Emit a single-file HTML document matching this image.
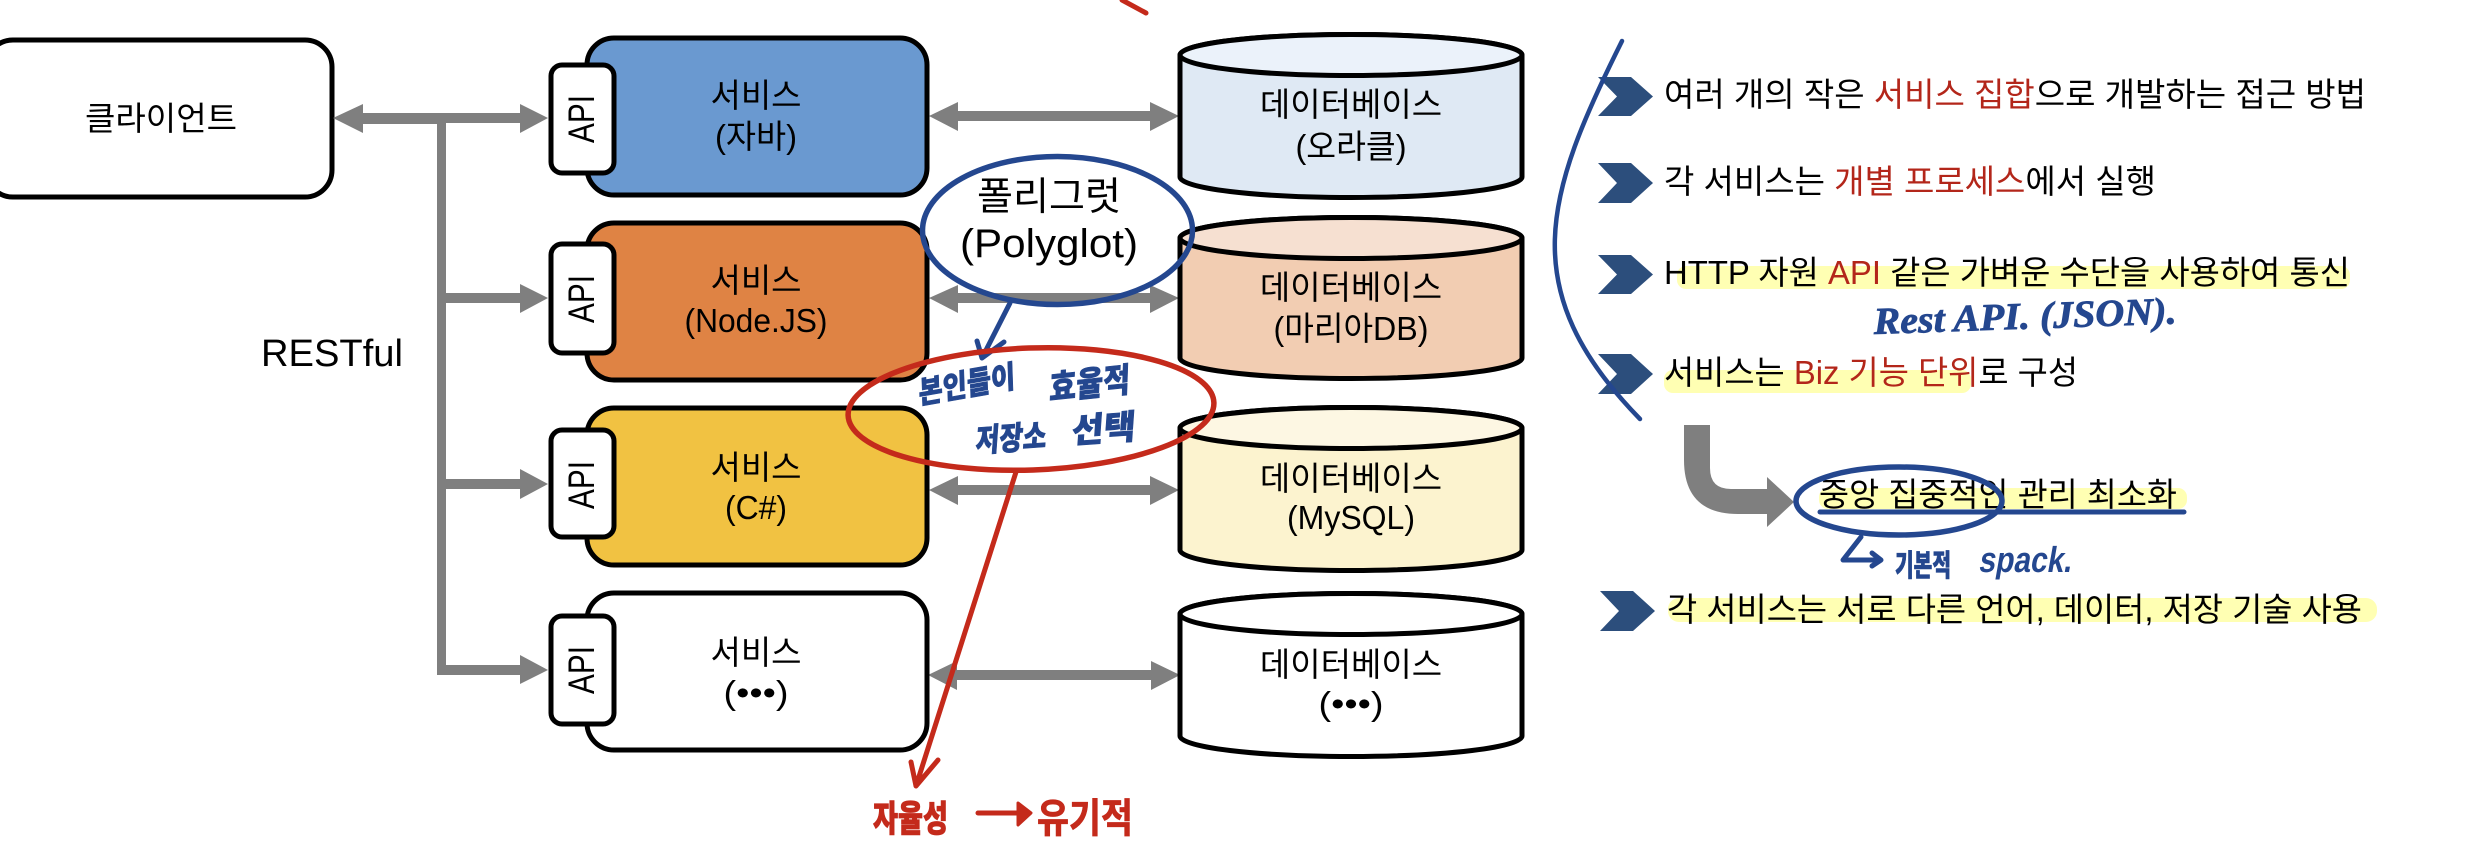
<!DOCTYPE html>
<html lang="ko"><head><meta charset="utf-8"><title>MSA</title>
<style>
html,body{margin:0;padding:0;background:#fff}
svg{display:block}
text{font-family:"Liberation Sans","Noto Sans CJK KR",sans-serif;font-size:33px;fill:#000}
.m{text-anchor:middle}
.r{fill:#b3261a}
.hb{font-family:"Noto Sans CJK KR","Liberation Sans",sans-serif;font-weight:900;fill:#24478f;stroke:#24478f;stroke-width:.6px}
.hr{font-family:"Noto Sans CJK KR","Liberation Sans",sans-serif;font-weight:900;fill:#c42a1b;stroke:#c42a1b;stroke-width:.8px}
.box{stroke:#000;stroke-width:5}
.pb{fill:none;stroke:#24478f;stroke-width:5;stroke-linecap:round;stroke-linejoin:round}
.pr{fill:none;stroke:#c42a1b;stroke-width:5;stroke-linecap:round;stroke-linejoin:round}
</style></head><body>
<svg width="2478" height="866" viewBox="0 0 2478 866" xmlns="http://www.w3.org/2000/svg">
<rect width="2478" height="866" fill="#fff"/>

<!-- client -->
<rect class="box" x="-14" y="40" width="346" height="157" rx="27" fill="#fff"/>
<text class="m" x="161" y="130" textLength="152" lengthAdjust="spacingAndGlyphs">클라이언트</text>

<!-- gray tree -->
<g fill="#7f7f7f">
<path d="M333,118 L363,104 V113 H437 H520 V104 L548,118 L520,133 V123 H446 V293 H520 V284 L548,298 L520,313 V303 H446 V479 H520 V469 L548,484 L520,499 V489 H446 V665 H520 V655 L548,670 L520,684 V675 H437 V124 H363 V133 Z"/>
<path d="M929,116 L958,102 V111 H1150 V102 L1179,116 L1150,131 V121 H958 V131 Z"/>
<path d="M929,298 L958,285 V293 H1150 V285 L1179,298 L1150,313 V303 H958 V313 Z"/>
<path d="M929,490 L958,476 V485 H1150 V476 L1179,490 L1150,505 V495 H958 V505 Z"/>
<path d="M928,675 L957,661 V670 H1151 V661 L1180,675 L1151,690 V680 H957 V690 Z"/>
</g>

<text x="261" y="366" style="font-size:38px" textLength="142" lengthAdjust="spacingAndGlyphs">RESTful</text>

<!-- services -->
<rect class="box" x="587" y="38" width="340" height="157" rx="27" fill="#6a99d0"/>
<rect class="box" x="587" y="223" width="340" height="157" rx="27" fill="#df8344"/>
<rect class="box" x="587" y="408" width="340" height="157" rx="27" fill="#f1c242"/>
<rect class="box" x="587" y="593" width="340" height="157" rx="27" fill="#fff"/>

<rect class="box" x="551" y="65" width="63" height="108" rx="11" fill="#fff"/>
<rect class="box" x="551" y="244" width="63" height="109" rx="11" fill="#fff"/>
<rect class="box" x="551" y="430" width="63" height="107" rx="11" fill="#fff"/>
<rect class="box" x="551" y="616" width="63" height="108" rx="11" fill="#fff"/>

<g style="font-size:37px">
<text class="m" transform="translate(594,119) rotate(-90)" style="font-size:37px" textLength="48" lengthAdjust="spacingAndGlyphs">API</text>
<text class="m" transform="translate(594,299) rotate(-90)" style="font-size:37px" textLength="48" lengthAdjust="spacingAndGlyphs">API</text>
<text class="m" transform="translate(594,485) rotate(-90)" style="font-size:37px" textLength="48" lengthAdjust="spacingAndGlyphs">API</text>
<text class="m" transform="translate(594,670) rotate(-90)" style="font-size:37px" textLength="48" lengthAdjust="spacingAndGlyphs">API</text>
</g>

<text class="m" x="756" y="107">서비스</text>
<text class="m" x="756" y="148" textLength="82" lengthAdjust="spacingAndGlyphs">(자바)</text>
<text class="m" x="756" y="292">서비스</text>
<text class="m" x="756" y="332" textLength="143" lengthAdjust="spacingAndGlyphs">(Node.JS)</text>
<text class="m" x="756" y="479">서비스</text>
<text class="m" x="756" y="519" textLength="62" lengthAdjust="spacingAndGlyphs">(C#)</text>
<text class="m" x="756" y="664">서비스</text>
<text class="m" x="756" y="704" textLength="65" lengthAdjust="spacingAndGlyphs">(•••)</text>

<!-- cylinders -->
<g class="box">
<path d="M1180,55 A171,20.5 0 0 1 1522,55 V177 A171,20.5 0 0 1 1180,177 Z" fill="#dfe9f4"/>
<ellipse cx="1351" cy="55" rx="171" ry="20.5" fill="#ebf2fa"/>
<path d="M1180,238 A171,20.5 0 0 1 1522,238 V358 A171,20.5 0 0 1 1180,358 Z" fill="#f2cdb2"/>
<ellipse cx="1351" cy="238" rx="171" ry="20.5" fill="#f6e0d1"/>
<path d="M1180,428 A171,20.5 0 0 1 1522,428 V550 A171,20.5 0 0 1 1180,550 Z" fill="#fcf3cf"/>
<ellipse cx="1351" cy="428" rx="171" ry="20.5" fill="#fdf7e3"/>
<path d="M1180,614 A171,20.5 0 0 1 1522,614 V736 A171,20.5 0 0 1 1180,736 Z" fill="#fff"/>
<ellipse cx="1351" cy="614" rx="171" ry="20.5" fill="#fff"/>
</g>
<text class="m" x="1351" y="116">데이터베이스</text>
<text class="m" x="1351" y="158" textLength="111" lengthAdjust="spacingAndGlyphs">(오라클)</text>
<text class="m" x="1351" y="299">데이터베이스</text>
<text class="m" x="1351" y="340" textLength="155" lengthAdjust="spacingAndGlyphs">(마리아DB)</text>
<text class="m" x="1351" y="490">데이터베이스</text>
<text class="m" x="1351" y="529" textLength="128" lengthAdjust="spacingAndGlyphs">(MySQL)</text>
<text class="m" x="1351" y="676">데이터베이스</text>
<text class="m" x="1351" y="715" textLength="65" lengthAdjust="spacingAndGlyphs">(•••)</text>

<!-- polyglot -->
<text class="m" x="1049" y="210" style="font-size:39px" textLength="144" lengthAdjust="spacingAndGlyphs">폴리그럿</text>
<text class="m" x="1049" y="257" style="font-size:40px" textLength="178" lengthAdjust="spacingAndGlyphs">(Polyglot)</text>
<ellipse cx="1057.5" cy="230.5" rx="135" ry="74" style="fill:none;stroke:#24478f;stroke-width:5.5"/>
<path class="pb" d="M1010,303 L982,358 M977,341 L982,358 L1004,342"/>

<!-- red ellipse -->
<ellipse cx="1031" cy="409" rx="183" ry="61" transform="rotate(-2 1031 409)" style="fill:none;stroke:#c42a1b;stroke-width:5.5"/>
<path class="pr" d="M1016,472 L916,786 M911,762 L916,786 L938,760"/>
<path class="pr" d="M1122,0 L1146,13"/>

<!-- handwritten blue -->
<text class="hb" transform="translate(919,404) rotate(-10) skewX(-8)" style="font-size:31px" textLength="98" lengthAdjust="spacingAndGlyphs">본인들이</text>
<text class="hb" transform="translate(1049,400) rotate(-6) skewX(-8)" style="font-size:34px" textLength="81" lengthAdjust="spacingAndGlyphs">효율적</text>
<text class="hb" transform="translate(975,452) rotate(-4) skewX(-8)" style="font-size:32px" textLength="71" lengthAdjust="spacingAndGlyphs">저장소</text>
<text class="hb" transform="translate(1071,443) rotate(-4) skewX(-8)" style="font-size:34px" textLength="64" lengthAdjust="spacingAndGlyphs">선택</text>

<!-- handwritten red bottom -->
<text class="hr" x="873" y="831" style="font-size:36px" textLength="75" lengthAdjust="spacingAndGlyphs">자율성</text>
<path class="pr" d="M978,813 H1022"/>
<path d="M1018,803 L1031,813 L1018,825 Z" fill="#c42a1b" stroke="#c42a1b" stroke-width="3" stroke-linejoin="round"/>
<text class="hr" x="1037" y="832" style="font-size:40px;font-weight:700" textLength="96" lengthAdjust="spacingAndGlyphs">유기적</text>

<!-- right panel highlights -->
<g fill="#ffffb3">
<rect x="1677" y="266" width="673" height="23" rx="9"/>
<rect x="1664" y="370" width="307" height="23" rx="9"/>
<rect x="1819" y="488" width="368" height="21" rx="9"/>
<rect x="1668" y="598" width="709" height="24" rx="11"/>
</g>

<!-- chevrons -->
<g fill="#2c4e7c">
<path d="M1598,77 H1631 L1653,96.5 L1631,116 H1598 L1617,96.5 Z"/>
<path d="M1598,163 H1631 L1653,183 L1631,203 H1598 L1617,183 Z"/>
<path d="M1598,255 H1631 L1653,274.5 L1631,294 H1598 L1617,274.5 Z"/>
<path d="M1598,354 H1631 L1653,374 L1631,394 H1598 L1617,374 Z"/>
<path d="M1600,591 H1633 L1655,611 L1633,631 H1600 L1619,611 Z"/>
</g>

<!-- blue arc -->
<path class="pb" style="stroke-width:4.5" d="M1622,41 C1545,195 1514,290 1640,419"/>

<!-- right panel text -->
<text x="1664" y="106" textLength="702" lengthAdjust="spacingAndGlyphs">여러 개의 작은 <tspan class="r">서비스 집합</tspan>으로 개발하는 접근 방법</text>
<text x="1664" y="193" textLength="492" lengthAdjust="spacingAndGlyphs">각 서비스는 <tspan class="r">개별 프로세스</tspan>에서 실행</text>
<text x="1664" y="284" textLength="686" lengthAdjust="spacingAndGlyphs">HTTP 자원 <tspan class="r">API</tspan> 같은 가벼운 수단을 사용하여 통신</text>
<text x="1664" y="384" textLength="414" lengthAdjust="spacingAndGlyphs">서비스는 <tspan class="r">Biz 기능 단위</tspan>로 구성</text>
<text x="1819" y="506" textLength="358" lengthAdjust="spacingAndGlyphs">중앙 집중적인 관리 최소화</text>
<text x="1667" y="621" textLength="695" lengthAdjust="spacingAndGlyphs">각 서비스는 서로 다른 언어, 데이터, 저장 기술 사용</text>

<!-- Rest API handwriting -->
<text transform="translate(1874,334) rotate(-2)" style="font-family:'Liberation Serif',serif;font-style:italic;font-weight:700;font-size:38px;fill:#24478f;stroke:#24478f;stroke-width:.8px" textLength="303" lengthAdjust="spacingAndGlyphs">Rest API. (JSON).</text>

<!-- gray bent arrow -->
<path fill="#7f7f7f" d="M1684,425 H1710 V468 Q1710,489 1731,489 H1767 V477 L1794,502 L1767,527 V514 H1738 Q1684,514 1684,460 Z"/>

<!-- central mgmt annotations -->
<path class="pb" d="M1820,512 H2184"/>
<ellipse cx="1899" cy="501" rx="103" ry="34" style="fill:none;stroke:#24478f;stroke-width:5.5"/>
<path class="pb" d="M1861,537 L1843,560 H1878 M1872,553 L1881,560 L1872,566"/>
<text class="hb" x="1895" y="576" style="font-size:30px" textLength="56" lengthAdjust="spacingAndGlyphs">기본적</text>
<text transform="translate(1978,572) skewX(-10)" style="font-family:'Liberation Sans',sans-serif;font-weight:700;font-size:36px;fill:#24478f" textLength="93" lengthAdjust="spacingAndGlyphs">spack.</text>
</svg>
</body></html>
